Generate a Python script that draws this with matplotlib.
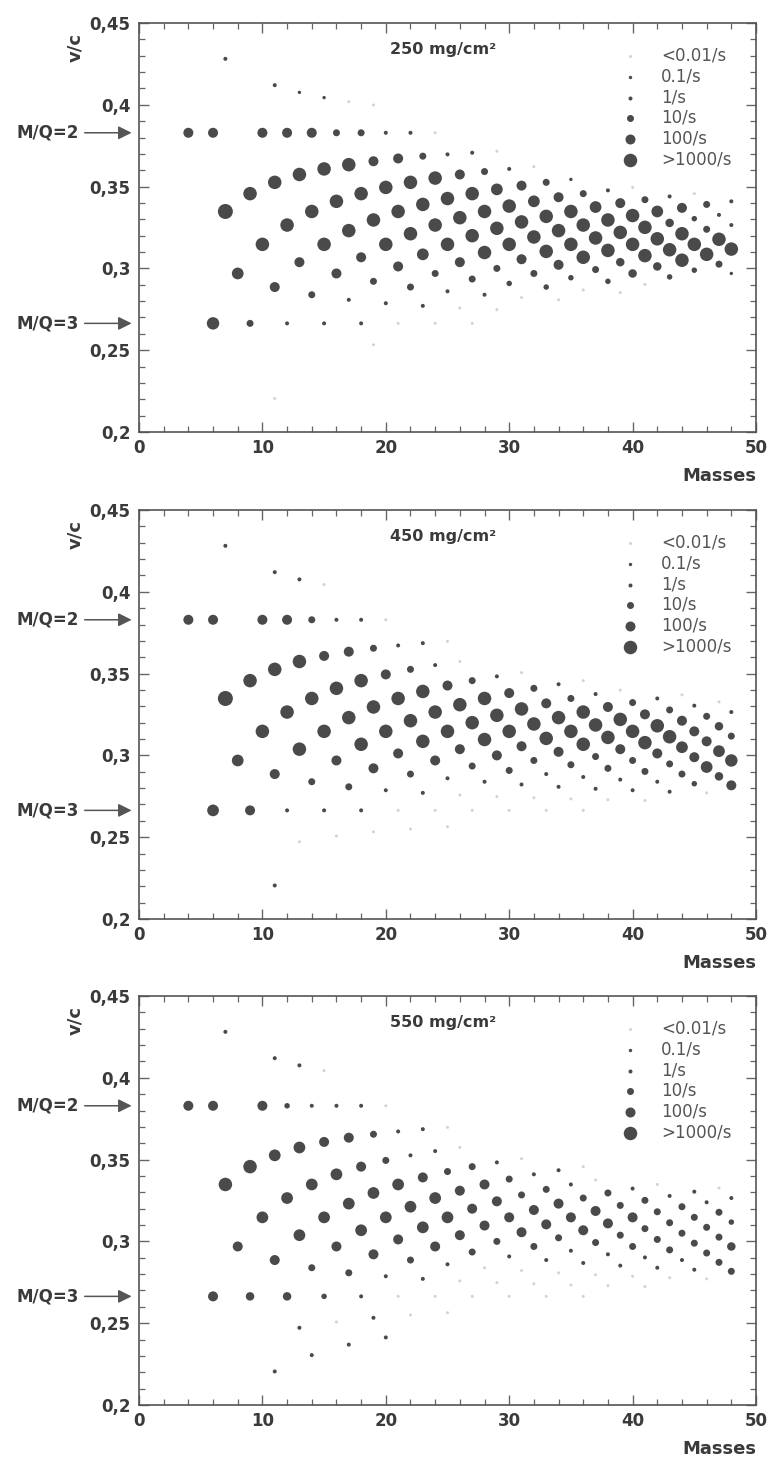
import matplotlib.pyplot as plt
import numpy as np
from matplotlib.ticker import MultipleLocator, FixedFormatter, FixedLocator

plt.rcParams['font.family'] = ['DejaVu Sans']

# Fragments grouped by isotopic chain (N - Z = -1 ... 14):
# mass number and v/c behind the spectrometer.
mass = [
    7, 11, 13, 15, 17, 19,                                                # -1
    4, 6, 10, 12, 14, 16, 18, 20, 22, 24,                                 # 0
    7, 9, 11, 13, 15, 17, 19, 21, 23, 25, 27, 29,                         # 1
    6, 8, 10, 12, 14, 16, 18, 20, 22, 24, 26, 28, 30, 32,                 # 2
    9, 11, 13, 15, 17, 19, 21, 23, 25, 27, 29, 31, 33, 35, 37,            # 3
    12, 14, 16, 18, 20, 22, 24, 26, 28, 30, 32, 34, 36, 38, 40, 42,       # 4
    11, 13, 15, 17, 19, 21, 23, 25, 27, 29, 31, 33, 35, 37, 39, 41, 43, 45, 47,  # 5
    14, 16, 18, 20, 22, 24, 26, 28, 30, 32, 34, 36, 38, 40, 42, 44, 46, 48,      # 6
    17, 19, 21, 23, 25, 27, 29, 31, 33, 35, 37, 39, 41, 43, 45, 47,       # 7
    20, 22, 24, 26, 28, 30, 32, 34, 36, 38, 40, 42, 44, 46, 48,           # 8
    23, 25, 27, 29, 31, 33, 35, 37, 39, 41, 43, 45, 47,                   # 9
    26, 28, 30, 32, 34, 36, 38, 40, 42, 44, 46, 48,                       # 10
    29, 31, 33, 35, 37, 39, 41, 43, 45, 47,                               # 11
    32, 34, 36, 38, 40, 42, 44, 46, 48,                                   # 12
    35, 37, 39, 41, 43, 45, 47,                                           # 13
    38, 40, 42, 44, 46, 48,                                               # 14
]
vc = [
    .4281, .4120, .4076, .4044, .4019, .3999,
    .3829, .3829, .3829, .3829, .3829, .3829, .3829, .3829, .3829, .3829,
    .3348, .3457, .3526, .3574, .3608, .3634, .3655, .3672, .3686, .3697, .3707, .3716,
    .2664, .2969, .3147, .3265, .3348, .3410, .3457, .3495, .3526, .3552, .3574, .3592, .3608, .3622,
    .2664, .2886, .3038, .3147, .3231, .3296, .3348, .3391, .3427, .3457, .3483, .3506, .3526, .3544, .3559,
    .2664, .2839, .2969, .3068, .3147, .3212, .3265, .3310, .3348, .3381, .3410, .3435, .3457, .3477, .3495, .3511,
    .2205, .2472, .2664, .2808, .2921, .3012, .3086, .3147, .3200, .3245, .3284, .3318, .3348, .3375, .3399, .3420, .3440, .3457, .3473,
    .2305, .2508, .2664, .2787, .2886, .2969, .3038, .3097, .3147, .3192, .3231, .3265, .3296, .3323, .3348, .3370, .3391, .3410,
    .2369, .2533, .2664, .2771, .2860, .2935, .3000, .3056, .3104, .3147, .3186, .3220, .3251, .3278, .3304, .3327,
    .2413, .2550, .2664, .2758, .2839, .2908, .2969, .3022, .3068, .3110, .3147, .3181, .3212, .3239, .3265,
    .2446, .2564, .2664, .2748, .2822, .2886, .2943, .2993, .3038, .3078, .3114, .3147, .3178,
    .2472, .2575, .2664, .2741, .2808, .2868, .2921, .2969, .3012, .3050, .3086, .3118,
    .2492, .2583, .2664, .2734, .2796, .2852, .2902, .2948, .2989, .3026,
    .2508, .2591, .2664, .2729, .2787, .2839, .2886, .2929, .2969,
    .2521, .2596, .2664, .2724, .2778, .2827, .2872,
    .2533, .2602, .2664, .2720, .2771, .2817,
]

# log10 of the counting rate (1/s) for each target thickness, None = not seen
N = None
rate_250 = [
    0, 0, -1, -1, -2, -2,
    2, 2, 2, 2, 2, 1, 1, 0, 0, -2,
    3.5, 3, 3, 3, 3, 3, 2, 2, 1, 0, 0, -2,
    2.7, 2.5, 3, 3, 3, 3, 3, 3, 3, 3, 2, 1, 0, -2,
    1, 2, 2, 3, 3, 3, 3, 3, 3, 3, 2.5, 2, 1, -1, N,
    0, 1, 2, 2, 3, 3, 3, 3, 3, 3, 2.5, 2, 1, 0, -2, N,
    -2, N, 0, 0, 1, 2, 2.5, 3, 3, 3, 3, 3, 3, 2.5, 2, 1, 0, -2, N,
    N, N, 0, 0, 1, 1, 2, 3, 3, 3, 3, 3, 3, 3, 2.5, 2, 1, 0,
    N, -2, -2, 0, 0, 1, 1, 2, 3, 3, 3, 3, 3, 1.5, 0.5, 0,
    N, N, -2, -2, 0, 0.5, 1, 2, 3, 3, 3, 3, 3, 1, 0,
    N, N, -2, -2, -2, 0.5, 0.5, 1, 1.5, 3, 3, 3, 3,
    N, N, N, N, -2, -2, 0.5, 1.5, 1.5, 3, 3, 3,
    N, N, N, N, N, -2, -2, 0.5, 0.5, 1,
    N, N, N, N, N, N, N, N, -1,
    N, N, N, N, N, N, N,
    N, N, N, N, N, N,
]
rate_450 = [
    0, 0, 0, -2, N, N,
    2, 2, 2, 2, 1, 0, 0, -2, N, N,
    3.5, 3, 3, 3, 2, 2, 1, 0, 0, -2, N, N,
    2.5, 2.5, 3, 3, 3, 3, 3, 2, 1, 0, -2, N, N, N,
    2, 2, 3, 3, 3, 3, 3, 3, 2, 1, 0, -2, N, N, N,
    0, 1, 2, 3, 3, 3, 3, 3, 3, 2, 1, 0, -2, N, N, N,
    0, -2, 0, 1, 2, 2, 3, 3, 3, 3, 3, 2, 1, 0, -2, N, N, N, N,
    N, -2, 0, 0, 1, 2, 2, 3, 3, 3, 3, 3, 2, 1, 0, -2, N, N,
    N, -2, -2, 0, 0, 1, 2, 2, 3, 3, 3, 3, 2, 1, 0, -2,
    N, -2, -2, -2, 0, 1, 1, 2, 3, 3, 3, 3, 2, 1, 0,
    N, -2, -2, -2, 0, 0, 1, 1, 2, 3, 3, 2, 1.5,
    N, N, -2, -2, 0, 0, 1, 1, 2, 2.5, 2, 1,
    N, N, -2, -2, 0, 0, 1, 1, 2, 2.5,
    N, N, -2, -2, 0, 0, 1, 2.5, 2.7,
    N, N, N, -2, 0, 0.5, 1.5,
    N, N, N, N, -2, 2,
]
rate_550 = [
    0, 0, 0, -2, N, N,
    2, 2, 2, 0.5, 0, 0, 0, -2, N, N,
    3, 3, 2.5, 2.5, 2, 2, 1, 0, 0, -2, N, N,
    2, 2, 2.5, 2.5, 2.5, 2.5, 2, 1, 0, 0, -2, N, N, N,
    1.5, 2, 2.5, 2.5, 2.5, 2.5, 2.5, 2, 1, 1, 0, -2, N, N, N,
    1.5, 1, 2, 2.5, 2.5, 2.5, 2.5, 2, 2, 1, 0, 0, -2, N, N, N,
    0, 0, 0.5, 1, 2, 2, 2.5, 2.5, 2, 2, 1, 1, 0, -2, N, N, N, N, N,
    0, -2, 0, 0, 1, 2, 2, 2, 2, 2, 2, 1, 1, 0, -2, N, N, N,
    0, 0, -2, 0, 0, 1, 1, 2, 2, 2, 2, 1, 1, 0, 0, -2,
    0, -2, -2, -2, -2, 0, 1, 1, 2, 2, 2, 1, 1, 0, 0,
    N, -2, -2, -2, -2, 0, 0, 1, 1, 1, 1, 1, 1,
    N, N, -2, -2, -2, 0, 0, 1, 1, 1, 1, 0.5,
    N, N, -2, -2, -2, 0, 0, 1, 1, 1,
    N, N, -2, -2, -2, 0, 0, 1, 1.5,
    N, N, N, -2, -2, 0, 1,
    N, N, N, N, -2, 1,
]

targets = ['250 mg/cm\u00b2', '450 mg/cm\u00b2', '550 mg/cm\u00b2']
legend_labels = ['<0.01/s', '0.1/s', '1/s', '10/s', '100/s', '>1000/s']
legend_rates = [-2, -1, 0, 1, 2, 3]

y_ticks = [0.2, 0.25, 0.3, 0.35, 0.4, 0.45]
y_ticklabels = ['0,2', '0,25', '0,3', '0,35', '0,4', '0,45']

DOT = '#4a4a4a'
FAINT = '#d2d2d2'
INK = '#3a3a3a'


def dot_area(lr):
    """Marker area (pt^2) from log10 rate."""
    diam = np.interp(lr, [-2, -1, 0, 1, 2, 3, 3.5],
                     [3.0, 3.4, 4.0, 7.0, 10.0, 13.5, 15.0])
    return (diam * 0.72) ** 2


def dot_color(lr):
    return FAINT if lr <= -2 else DOT


W, H = 772, 1465
panels = [(23, 432), (510, 919), (996, 1405)]
x0, x1 = 139, 756

fig = plt.figure(figsize=(W / 100, H / 100), dpi=100)

m = np.array(mass, dtype=float)
v = np.array(vc, dtype=float)

for (top, bot), rates, target in zip(panels, [rate_250, rate_450, rate_550], targets):
    ax = fig.add_axes([x0 / W, 1 - bot / H, (x1 - x0) / W, (bot - top) / H])
    r = np.array([np.nan if x is None else x for x in rates], dtype=float)
    ok = ~np.isnan(r)
    faint = ok & (r <= -2)
    dark = ok & (r > -2)
    ax.scatter(m[faint], v[faint], s=dot_area(r[faint]), c=FAINT, lw=0, zorder=2)
    ax.scatter(m[dark], v[dark], s=dot_area(r[dark]), c=DOT, lw=0, zorder=3)

    ax.set_xlim(0, 50)
    ax.set_ylim(0.2, 0.45)
    ax.xaxis.set_major_locator(MultipleLocator(10))
    ax.xaxis.set_minor_locator(MultipleLocator(2))
    ax.yaxis.set_major_locator(FixedLocator(y_ticks))
    ax.yaxis.set_major_formatter(FixedFormatter(y_ticklabels))
    ax.yaxis.set_minor_locator(MultipleLocator(0.01))
    ax.tick_params(which='both', direction='in', top=True, right=True,
                   color='#666666', labelcolor=INK, labelsize=12)
    ax.tick_params(axis='y', pad=6)
    ax.tick_params(axis='x', pad=5)
    ax.tick_params(which='major', length=7, width=1.0)
    ax.tick_params(which='minor', length=4, width=0.9)
    for lab in ax.get_xticklabels() + ax.get_yticklabels():
        lab.set_fontweight('bold')
    for sp in ax.spines.values():
        sp.set_color('#555555')
        sp.set_linewidth(1.2)

    ax.text(20.3, 0.4335, target, fontsize=11.5, fontweight='bold',
            color=INK, va='center', ha='left')

    handles = [ax.scatter([], [], s=dot_area(lr), c=dot_color(lr), lw=0)
               for lr in legend_rates]
    ax.legend(handles, legend_labels, loc='upper left',
              bbox_to_anchor=(0.783, 0.942), frameon=False, fontsize=12,
              labelcolor='#555555', handlelength=0.9, handletextpad=1.45,
              labelspacing=0.16, borderpad=0, borderaxespad=0,
              scatterpoints=1)

    for label, y in [('M/Q=2', 0.3829), ('M/Q=3', 0.2664)]:
        ax.annotate(label, xy=(-0.012, y), xycoords=('axes fraction', 'data'),
                    xytext=(-0.097, y), textcoords=('axes fraction', 'data'),
                    ha='right', va='center', fontsize=12, fontweight='bold',
                    color=INK, annotation_clip=False,
                    arrowprops=dict(arrowstyle='-|>', color='#555555', lw=1.1,
                                    mutation_scale=20, shrinkA=2, shrinkB=0))

    ax.text(-0.104, 0.94, 'v/c', rotation=90, transform=ax.transAxes,
            ha='center', va='center', fontsize=13, fontweight='bold', color=INK)
    ax.text(1.0, -0.108, 'Masses', transform=ax.transAxes, ha='right',
            va='center', fontsize=13, fontweight='bold', color=INK)

fig.savefig('out.png', dpi=100)
